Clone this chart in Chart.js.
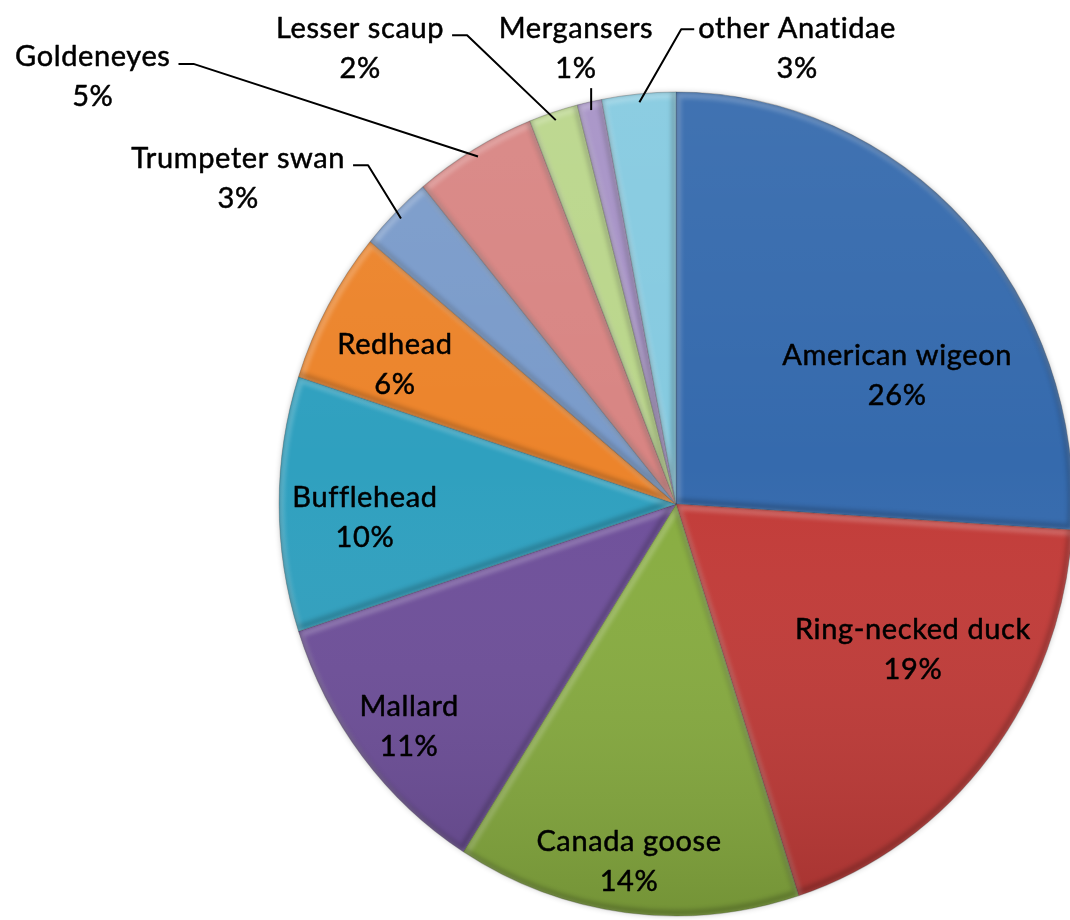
<!DOCTYPE html>
<html>
<head>
<meta charset="utf-8">
<title>Anatidae species composition</title>
<script src="https://cdn.jsdelivr.net/npm/chart.js@4/dist/chart.umd.min.js"></script>
<style>
  html, body { margin: 0; padding: 0; background: #ffffff; overflow: hidden; }
  #wrap { width: 1070px; height: 920px; position: relative; }
</style>
</head>
<body>
<div id="wrap"><canvas id="pie" width="1070" height="920"></canvas></div>
<script>
// Species share of the waterfowl count (percent), clockwise from 12 o'clock
const species = [
  'American wigeon', 'Ring-necked duck', 'Canada goose', 'Mallard', 'Bufflehead',
  'Redhead', 'Trumpeter swan', 'Goldeneyes', 'Lesser scaup', 'Mergansers', 'other Anatidae'
];
const sharePct = [26, 19, 14, 11, 10, 6, 3, 5, 2, 1, 3];

// Slice fills (Office-style palette, pale variants for the small slices)
const sliceColors = [
  '#356AAD', '#C23B38', '#88AD40', '#6E4F9A', '#2FA0BF',
  '#EC842B', '#7A9BCA', '#D88583', '#BAD68B', '#A692C6', '#85CAE0'
];

// Label block centres, in pie radii from the pie centre
const labelAt = [
  [0.546, -0.319], [0.585, 0.356], [-0.116, 0.881], [-0.659, 0.548], [-0.768, 0.032],
  [-0.694, -0.346], [-1.081, -0.807], [-1.440, -1.057], [-0.780, -1.128], [-0.247, -1.128], [0.299, -1.128]
];
// Which side of an outside label its leader line leaves from
const leaderFrom = [null, null, null, null, null, null, 'right', 'right', 'right', 'below', 'left'];

const SX = 0.98, SY = 1.017;     // slight oval of the pie
const FONT = '29px Lato, "Open Sans", sans-serif';
const CAP = 21;                  // cap height of the label font, px
const LINE_GAP = 40;             // distance between the two label lines

function slicePath(a) {
  const p = new Path2D();
  p.moveTo(a.x, a.y);
  p.arc(a.x, a.y, a.outerRadius, a.startAngle, a.endAngle);
  p.closePath();
  return p;
}

const pieLook = {
  id: 'pieLook',
  beforeDatasetsDraw(chart) {
    const ctx = chart.ctx;
    const arcs = chart.getDatasetMeta(0).data;
    const { x, y, outerRadius: r } = arcs[0];
    ctx.save();
    ctx.translate(x, y); ctx.scale(SX, SY); ctx.translate(-x, -y);
    // soft halo round the rim
    ctx.save();
    ctx.shadowColor = 'rgba(0,0,0,0.30)';
    ctx.shadowBlur = 6;
    ctx.fillStyle = '#ffffff';
    ctx.beginPath(); ctx.arc(x, y, r - 1, 0, Math.PI * 2); ctx.fill();
    ctx.restore();
  },
  afterDatasetsDraw(chart) {
    const ctx = chart.ctx;
    const arcs = chart.getDatasetMeta(0).data;
    const { x, y, outerRadius: r } = arcs[0];
    // bevel: light band on upper-left edges, shade on lower-right edges
    arcs.forEach(a => {
      const p = slicePath(a);
      ctx.save();
      ctx.clip(p);
      ctx.filter = 'blur(2px)';
      ctx.lineJoin = 'round';
      ctx.lineWidth = 6;
      ctx.save(); ctx.translate(2, 3); ctx.strokeStyle = 'rgba(255,255,255,0.22)'; ctx.stroke(p); ctx.restore();
      ctx.save(); ctx.translate(-2, -3); ctx.strokeStyle = 'rgba(0,0,0,0.20)'; ctx.stroke(p); ctx.restore();
      ctx.restore();
    });
    // top-to-bottom light falloff over the whole pie
    ctx.save();
    ctx.globalCompositeOperation = 'source-atop';
    const g = ctx.createLinearGradient(0, y - r, 0, y + r);
    g.addColorStop(0, 'rgba(255,255,255,0.06)');
    g.addColorStop(0.45, 'rgba(255,255,255,0)');
    g.addColorStop(1, 'rgba(0,0,0,0.15)');
    ctx.fillStyle = g;
    ctx.beginPath(); ctx.arc(x, y, r, 0, Math.PI * 2); ctx.fill();
    ctx.restore();
    ctx.restore();
  },
  afterDraw(chart) {
    const ctx = chart.ctx;
    const arcs = chart.getDatasetMeta(0).data;
    const { x: cx, y: cy, outerRadius: r } = arcs[0];
    ctx.save();
    ctx.font = FONT;
    if ('letterSpacing' in ctx) ctx.letterSpacing = '0.6px';
    ctx.fillStyle = '#000000';
    ctx.strokeStyle = '#000000';
    ctx.textAlign = 'center';
    ctx.textBaseline = 'alphabetic';
    ctx.lineJoin = 'round';
    const drawText = (t, x, y) => {
      ctx.lineWidth = 0.5;
      ctx.strokeText(t, x, y);
      ctx.fillText(t, x, y);
    };
    species.forEach((name, i) => {
      const lx = cx + labelAt[i][0] * r;
      const ly = cy + labelAt[i][1] * r;
      const y1 = ly - LINE_GAP / 2, y2 = ly + LINE_GAP / 2;
      drawText(name, lx, y1 + CAP / 2);
      drawText(sharePct[i] + '%', lx, y2 + CAP / 2);
      const side = leaderFrom[i];
      if (!side) return;
      const a = arcs[i];
      const mid = (a.startAngle + a.endAngle) / 2;
      const ex = cx + Math.cos(mid) * r * 0.98 * SX;
      const ey = cy + Math.sin(mid) * r * 0.98 * SY;
      const w = ctx.measureText(name).width;
      ctx.lineWidth = 2;
      ctx.beginPath();
      if (side === 'right') {
        const sx = lx + w / 2 + 8, sy = y1 + 8;
        ctx.moveTo(sx, sy); ctx.lineTo(sx + 15, sy); ctx.lineTo(ex, ey);
      } else if (side === 'left') {
        const sx = lx - w / 2 - 4, sy = y1 + 2;
        ctx.moveTo(sx, sy); ctx.lineTo(sx - 13, sy); ctx.lineTo(ex, ey);
      } else {
        ctx.moveTo(ex, y2 + 21); ctx.lineTo(ex, ey);
      }
      ctx.stroke();
    });
    ctx.restore();
  }
};

function build() {
  new Chart(document.getElementById('pie'), {
    type: 'pie',
    data: {
      labels: species,
      datasets: [{
        data: sharePct,
        backgroundColor: sliceColors,
        borderColor: 'rgba(30,30,30,0.25)',
        borderWidth: 1,
        radius: 405,
        clip: false
      }]
    },
    options: {
      responsive: false,
      animation: false,
      events: [],
      layout: { padding: { left: 282, right: 0, top: 88, bottom: 0 } },
      plugins: { legend: { display: false }, tooltip: { enabled: false } }
    },
    plugins: [pieLook]
  });
}

if (document.fonts && document.fonts.load) {
  document.fonts.load(FONT).then(build, build);
} else {
  build();
}
</script>
</body>
</html>
